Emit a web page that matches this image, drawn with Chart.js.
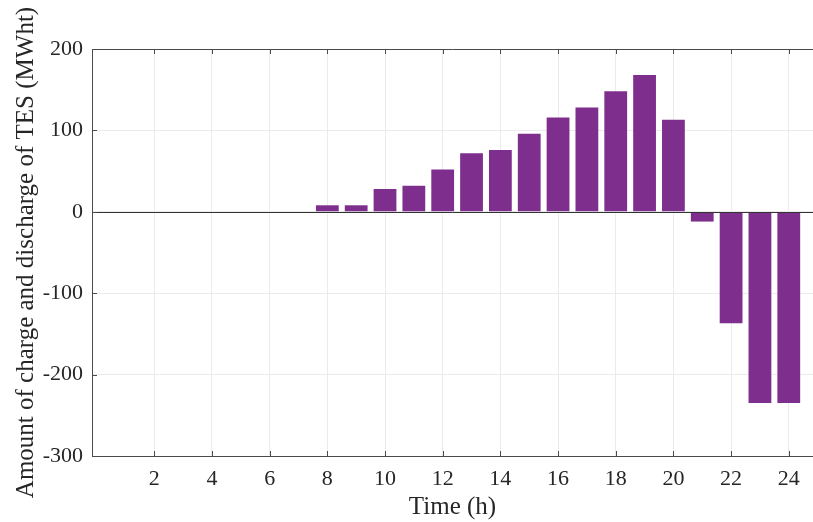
<!DOCTYPE html>
<html>
<head>
<meta charset="utf-8">
<script src="https://cdn.jsdelivr.net/npm/chart.js@4.4.1/dist/chart.umd.min.js"></script>
<style>
	body { margin: 0; background: #fff; }
	#wrap { width: 813px; height: 522px; position: relative; }
</style>
</head>
<body>
<div id="wrap"><canvas id="tesChart"></canvas></div>
<script>
// hours of the day and TES charge (+) / discharge (-) in MWht
var hours = [1, 2, 3, 4, 5, 6, 7, 8, 9, 10, 11, 12, 13, 14, 15, 16, 17, 18, 19, 20, 21, 22, 23, 24];
var tesValues = [0, 0, 0, 0, 0, 0, 0, 8, 8, 28, 32, 52, 72, 76, 96, 116, 128, 148, 168, 113, -12, -137, -235, -235];

var xTickLabels = [2, 4, 6, 8, 10, 12, 14, 16, 18, 20, 22, 24];
var yTickLabels = [-300, -200, -100, 0, 100, 200];

var axisColour = '#4a4a4a';
var gridColour = '#ebebeb';
var textColour = '#262626';
var fontFamily = '"Liberation Serif", "Times New Roman", serif';

// matlab style box: top border, inward ticks and the zero baseline
var matlabBox = {
	id: 'matlabBox',
	afterDatasetsDraw: function(chart) {
		var ctx = chart.ctx;
		var area = chart.chartArea;
		var x = chart.scales.x;
		var y = chart.scales.y;
		var tick = 5;

		ctx.save();
		ctx.lineWidth = 1;
		ctx.strokeStyle = '#333';
		var zero = Math.round(y.getPixelForValue(0)) + 0.5;
		ctx.beginPath();
		ctx.moveTo(area.left, zero);
		ctx.lineTo(area.right, zero);
		ctx.stroke();

		ctx.strokeStyle = axisColour;
		ctx.beginPath();
		ctx.moveTo(area.left, area.top + 0.5);
		ctx.lineTo(area.right, area.top + 0.5);
		xTickLabels.forEach(function(v) {
			var px = Math.round(x.getPixelForValue(v)) + 0.5;
			ctx.moveTo(px, area.top);
			ctx.lineTo(px, area.top + tick);
			ctx.moveTo(px, area.bottom);
			ctx.lineTo(px, area.bottom - tick);
		});
		yTickLabels.forEach(function(v) {
			var py = Math.round(y.getPixelForValue(v)) + 0.5;
			ctx.moveTo(area.left, py);
			ctx.lineTo(area.left + tick, py);
		});
		ctx.stroke();
		ctx.restore();
	}
};

var config = {
	type: 'bar',
	data: {
		datasets: [{
			data: hours.map(function(h, i) { return { x: h, y: tesValues[i] }; }),
			backgroundColor: '#7E2F8E',
			borderWidth: 0,
			barPercentage: 0.79,
			categoryPercentage: 1,
		}]
	},
	plugins: [matlabBox],
	options: {
		responsive: true,
		maintainAspectRatio: false,
		animation: false,
		layout: {
			padding: { top: 49, right: 0, left: 0, bottom: 0 }
		},
		plugins: {
			legend: { display: false },
			tooltip: { enabled: false },
		},
		scales: {
			x: {
				type: 'linear',
				min: -0.16,
				max: 24.84,
				offset: false,
				afterBuildTicks: function(axis) {
					axis.ticks = xTickLabels.map(function(v) { return { value: v }; });
				},
				afterFit: function(axis) {
					axis.height = 66;
				},
				grid: {
					color: gridColour,
					drawTicks: false,
					offset: false,
				},
				border: {
					color: axisColour,
				},
				ticks: {
					color: textColour,
					padding: 10,
					maxRotation: 0,
					font: { family: fontFamily, size: 22 },
				},
				title: {
					display: true,
					text: 'Time (h)',
					color: textColour,
					padding: { top: 0, bottom: 0 },
					font: { family: fontFamily, size: 25, lineHeight: 1.2 },
				}
			},
			y: {
				min: -300,
				max: 200,
				afterBuildTicks: function(axis) {
					axis.ticks = yTickLabels.map(function(v) { return { value: v }; });
				},
				afterFit: function(axis) {
					axis.width = 92;
				},
				grid: {
					color: gridColour,
					drawTicks: false,
				},
				border: {
					color: axisColour,
				},
				ticks: {
					color: textColour,
					padding: 9,
					font: { family: fontFamily, size: 22 },
				},
				title: {
					display: true,
					text: 'Amount of charge and discharge of TES (MWht)',
					color: textColour,
					padding: { top: 11, bottom: 0 },
					font: { family: fontFamily, size: 25, lineHeight: 1.2 },
				}
			}
		}
	}
};

const tesChart = new Chart(document.getElementById('tesChart'), config);
</script>
</body>
</html>
